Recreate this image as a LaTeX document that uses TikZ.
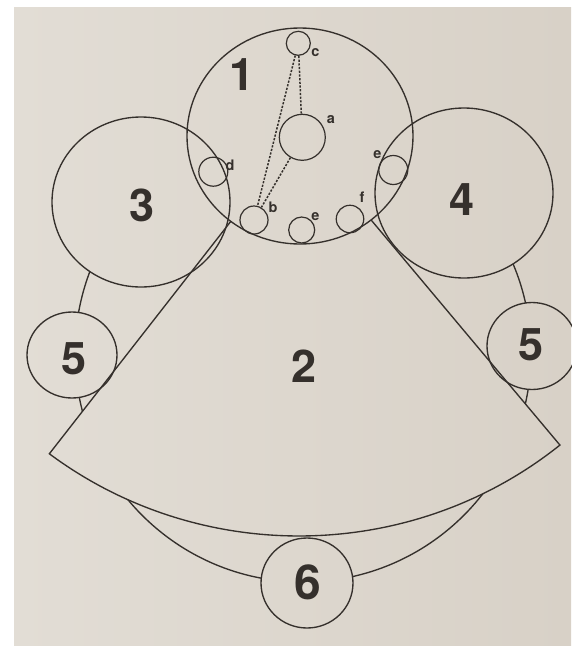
\documentclass[tikz,border=0pt]{standalone}
\usepackage{fontspec}
\setsansfont{TeX Gyre Heros}
\definecolor{paperL}{HTML}{E2DDD5}
\definecolor{paperR}{HTML}{D8D1C7}
\definecolor{inkc}{HTML}{35302C}
\begin{document}
\begin{tikzpicture}[x=1pt,y=-1pt,
  ln/.style={draw=inkc, line width=1.35pt},
  bignum/.style={font=\sffamily\bfseries\fontsize{45}{45}\selectfont, text=inkc, inner sep=0pt},
  lett/.style={font=\sffamily\bfseries\fontsize{14.5}{14.5}\selectfont, text=inkc, inner sep=0pt},
  sm/.style={circle, draw=inkc, line width=1.2pt, inner sep=0pt},
  dsh/.style={draw=inkc, line width=1.5pt, dash pattern=on 2.2pt off 1.5pt}]
\useasboundingbox (0,0) rectangle (571,646);
\fill[white] (0,0) rectangle (571,646);
\shade[left color=paperL, right color=paperR] (14,7) rectangle (571,646);
% big circle, hidden under the other shapes
\begin{scope}[even odd rule]
 \clip (-5,-5) rectangle (600,700) (300,136) ellipse [x radius=113pt, y radius=108pt];
 \begin{scope}[even odd rule]
 \clip (-5,-5) rectangle (600,700) (141,202) ellipse [x radius=89pt, y radius=85pt];
 \begin{scope}[even odd rule]
 \clip (-5,-5) rectangle (600,700) (464,193) ellipse [x radius=89pt, y radius=85pt];
 \begin{scope}[even odd rule]
 \clip (-5,-5) rectangle (600,700) (72,355) ellipse [x radius=45pt, y radius=43pt];
 \begin{scope}[even odd rule]
 \clip (-5,-5) rectangle (600,700) (532,346) ellipse [x radius=45pt, y radius=43.5pt];
 \begin{scope}[even odd rule]
 \clip (-5,-5) rectangle (600,700) (307,583) ellipse [x radius=46pt, y radius=45pt];
 \begin{scope}[even odd rule]
 \clip (-5,-5) rectangle (600,700) (299,134) -- ++(232.7:412pt and 402pt) arc[start angle=232.7, end angle=309.3, x radius=412pt, y radius=402pt] -- cycle;
 \draw[ln, nonzero rule] (303,353) ellipse [x radius=228pt, y radius=229pt];
 \end{scope}
 \end{scope}
 \end{scope}
 \end{scope}
 \end{scope}
 \end{scope}
\end{scope}
% sector 2, hidden inside circle 1
\begin{scope}[even odd rule]
 \clip (-5,-5) rectangle (600,700) (300,136) ellipse [x radius=113pt, y radius=108pt];
 \draw[ln, line join=miter] (299,134) -- ++(232.7:412pt and 402pt) arc[start angle=232.7, end angle=309.3, x radius=412pt, y radius=402pt] -- cycle;
\end{scope}
% circles
\draw[ln] (300,136) ellipse [x radius=113pt, y radius=108pt];
\draw[ln] (141,202) ellipse [x radius=89pt, y radius=85pt];
\draw[ln] (464,193) ellipse [x radius=89pt, y radius=85pt];
\draw[ln] (72,355) ellipse [x radius=45pt, y radius=43pt];
\draw[ln] (532,346) ellipse [x radius=45pt, y radius=43.5pt];
\draw[ln] (307,583) ellipse [x radius=46pt, y radius=45pt];
% numbers
\node[bignum] (n1) at (242.5,75) {1};
\node[bignum] (n2) at (304,366.5) {2};
\node[bignum] (n3) at (142.5,205) {3};
\node[bignum] (n4) at (462,200) {4};
\node[bignum] (n5l) at (74,359) {5};
\node[bignum] (n5r) at (531.5,345) {5};
\node[bignum, font=\sffamily\bfseries\fontsize{48}{48}\selectfont] (n6) at (307.5,582.5) {6};
% small circles inside 1
\node[sm, minimum size=24pt] (c) at (298.3,43.3) {};
\node[sm, minimum size=46pt] (a) at (302.3,137.3) {};
\node[sm, minimum size=29pt] (d) at (213.3,171.7) {};
\node[sm, minimum size=28pt] (b) at (254,220) {};
\node[sm, minimum size=26pt] (e1) at (301.7,230) {};
\node[sm, minimum size=27.5pt] (f) at (350,219) {};
\node[sm, minimum size=29pt] (e2) at (393.3,170) {};
% letters
\node[lett] (lc) at (315.5,53) {c};
\node[lett] (la) at (331,120) {a};
\node[lett] (ld) at (230,165.5) {d};
\node[lett] (lb) at (273,207) {b};
\node[lett] (le1) at (315.5,216.7) {e};
\node[lett] (lf) at (362,197.5) {f};
\node[lett] (le2) at (377.3,154.3) {e};
% dashed links
\draw[dsh] (c) -- (a);
\draw[dsh] (c) -- (b);
\draw[dsh] (a) -- (b);
\end{tikzpicture}
\end{document}
